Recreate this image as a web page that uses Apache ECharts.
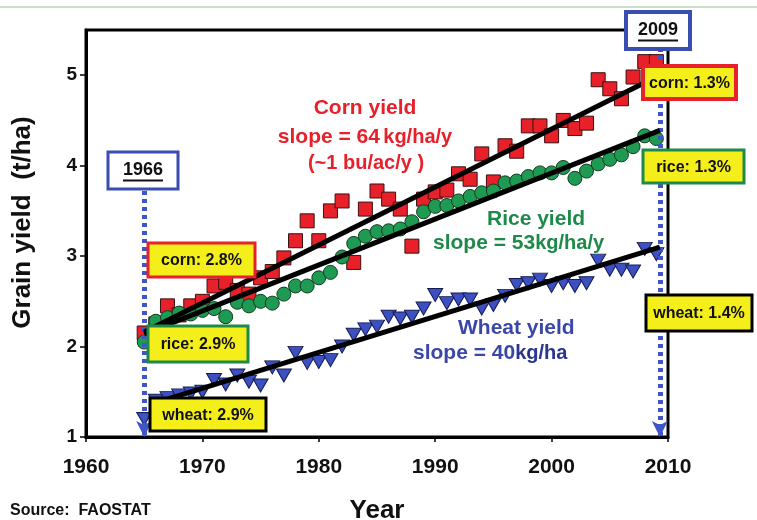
<!DOCTYPE html>
<html>
<head>
<meta charset="utf-8">
<script src="https://cdn.jsdelivr.net/npm/echarts@6/dist/echarts.min.js"></script>
<style>
  html, body { margin: 0; padding: 0; background: #fff; }
  #chart { width: 757px; height: 520px; }
</style>
</head>
<body>
<div id="chart"></div>
<script>
// years of the FAOSTAT series, as placed on the picture
const years = [1965, 1966, 1967, 1968, 1969, 1970, 1971, 1972, 1973, 1974,
  1975, 1976, 1977, 1978, 1979, 1980, 1981, 1982, 1983, 1984,
  1985, 1986, 1987, 1988, 1989, 1990, 1991, 1992, 1993, 1994,
  1995, 1996, 1997, 1998, 1999, 2000, 2001, 2002, 2003, 2004,
  2005, 2006, 2007, 2008, 2009];

// grain yield, t/ha
const corn = [2.15, 2.25, 2.45, 2.35, 2.45, 2.5, 2.67, 2.71, 2.62, 2.58,
  2.76, 2.83, 2.98, 3.17, 3.39, 3.17, 3.5, 3.61, 2.93, 3.52,
  3.72, 3.63, 3.52, 3.11, 3.63, 3.71, 3.73, 3.91, 3.85, 4.13,
  3.82, 4.22, 4.16, 4.44, 4.44, 4.33, 4.5, 4.41, 4.47, 4.95,
  4.85, 4.74, 4.98, 5.15, 5.15];
const rice = [2.05, 2.28, 2.32, 2.37, 2.36, 2.4, 2.42, 2.33, 2.49, 2.45,
  2.5, 2.48, 2.58, 2.67, 2.67, 2.76, 2.82, 2.99, 3.14, 3.22,
  3.27, 3.28, 3.3, 3.38, 3.49, 3.55, 3.56, 3.61, 3.66, 3.7,
  3.72, 3.81, 3.83, 3.88, 3.92, 3.92, 3.98, 3.86, 3.94, 4.02,
  4.07, 4.12, 4.21, 4.33, 4.3];
const wheat = [1.2, 1.4, 1.43, 1.46, 1.48, 1.5, 1.63, 1.58, 1.68, 1.61,
  1.57, 1.77, 1.68, 1.93, 1.82, 1.83, 1.85, 2.0, 2.13, 2.19,
  2.22, 2.33, 2.31, 2.33, 2.42, 2.57, 2.48, 2.52, 2.52, 2.42,
  2.46, 2.56, 2.68, 2.7, 2.74, 2.67, 2.7, 2.67, 2.7, 2.95,
  2.85, 2.85, 2.83, 3.08, 3.02];

// trend line ends (year, t/ha)
const cornTrendYears = [1965, 2008.2];
const cornTrend = [2.16, 4.93];
const riceTrendYears = [1965, 2009.3];
const riceTrend = [2.14, 4.39];
const wheatTrendYears = [1966.5, 2009.3];
const wheatTrend = [1.4, 3.1];

// dotted marker lines: year position and top value
const markYears = [1965, 2009.3];
const markTops = [3.72, 5.3];

const xTicks = { min: 1960, max: 2010, step: 10 };
const yTicks = { min: 1, max: 5.5, step: 1 };

const RED = '#e8202a';
const GREEN = '#1e8a4a';
const BLUE = '#3b47a8';
const DOT_BLUE = '#3f55c8';
const YELLOW = '#f4ee1a';
const FONT = '"Liberation Sans", Arial, sans-serif';
const NARROW = '"Liberation Sans Narrow", "Liberation Sans", Arial, sans-serif';

const pairs = (xs, ys) => xs.map((x, i) => [x, ys[i]]);

function labelBox(x, y, w, h, color, text, bw) {
  return {
    type: 'group', x: x, y: y, z: 100,
    children: [
      { type: 'rect', z: 100, shape: { x: 0, y: 0, width: w, height: h },
        style: { fill: YELLOW, stroke: color, lineWidth: bw } },
      { type: 'text', z: 101, x: w / 2, y: h / 2 + 1,
        style: { text: text, fill: '#111', font: 'bold 16px ' + FONT,
                 align: 'center', verticalAlign: 'middle' } }
    ]
  };
}

function yearBox(x, y, w, h, text, bw) {
  return {
    type: 'group', x: x, y: y, z: 100,
    children: [
      { type: 'rect', z: 100, shape: { x: 0, y: 0, width: w, height: h },
        style: { fill: '#fff', stroke: '#3a4db0', lineWidth: bw } },
      { type: 'text', z: 101, x: w / 2, y: h / 2,
        style: { text: text, fill: '#111', font: 'bold 18px ' + FONT,
                 align: 'center', verticalAlign: 'middle' } },
      { type: 'line', z: 101, shape: { x1: w / 2 - 20, y1: h / 2 + 10, x2: w / 2 + 20, y2: h / 2 + 10 },
        style: { stroke: '#111', lineWidth: 2 } }
    ]
  };
}

function note(x, y, rich, text, align) {
  return {
    type: 'text', x: x, y: y, z: 90,
    style: { text: text, rich: rich, align: align, verticalAlign: 'middle' }
  };
}

const chart = echarts.init(document.getElementById('chart'));

const option = {
  backgroundColor: '#fff',
  animation: false,
  grid: {
    left: 86, right: 89, top: 30, bottom: 83,
    containLabel: false, outerBoundsMode: 'none',
    show: true, borderColor: '#000', borderWidth: 3
  },
  xAxis: {
    type: 'value',
    min: xTicks.min, max: xTicks.max, interval: xTicks.step,
    name: 'Year', nameLocation: 'middle', nameGap: 61,
    nameTextStyle: { color: '#111', fontSize: 26, fontWeight: 'bold', fontFamily: FONT },
    axisLine: { show: true, lineStyle: { color: '#000', width: 3 } },
    axisTick: { show: true, length: 5, lineStyle: { color: '#000', width: 1.5 } },
    axisLabel: { color: '#111', fontSize: 21, fontWeight: 'bold', fontFamily: NARROW, margin: 20,
                 formatter: v => String(v) },
    splitLine: { show: false }
  },
  yAxis: {
    type: 'value',
    min: yTicks.min, max: yTicks.max, interval: yTicks.step,
    name: 'Grain yield  (t/ha)', nameLocation: 'middle', nameGap: 50,
    nameTextStyle: { color: '#111', fontSize: 26, fontWeight: 'bold', fontFamily: FONT, padding: [0, 0, 0, 22] },
    axisLine: { show: true, lineStyle: { color: '#000', width: 3 } },
    axisTick: { show: true, length: 6, lineStyle: { color: '#000', width: 1.5 } },
    axisLabel: { color: '#111', fontSize: 19, fontWeight: 'bold', fontFamily: FONT, margin: 9, showMaxLabel: false },
    splitLine: { show: false }
  },
  series: [
    {
      name: 'corn', type: 'scatter', symbol: 'rect', symbolSize: 14,
      itemStyle: { color: RED, borderColor: '#3a1010', borderWidth: 1, opacity: 1 },
      data: pairs(years, corn), z: 3
    },
    {
      name: 'rice', type: 'scatter', symbol: 'circle', symbolSize: 14,
      itemStyle: { color: '#1f9a52', borderColor: '#123a20', borderWidth: 1, opacity: 1 },
      data: pairs(years, rice), z: 4
    },
    {
      name: 'wheat', type: 'scatter', symbol: 'triangle', symbolRotate: 180, symbolSize: [15, 13],
      itemStyle: { color: '#3d50c2', borderColor: '#141c50', borderWidth: 1, opacity: 1 },
      data: pairs(years, wheat), z: 4,
      markLine: {
        silent: true, symbol: ['none', 'arrow'], symbolSize: [12, 16],
        label: { show: false },
        lineStyle: { color: DOT_BLUE, width: 5, type: [4, 4], cap: 'butt', opacity: 1 },
        data: markYears.map((yr, i) => [{ coord: [yr, markTops[i]] }, { coord: [yr, yTicks.min] }])
      }
    },
    {
      type: 'line', data: pairs(cornTrendYears, cornTrend), showSymbol: false, z: 6,
      lineStyle: { color: '#000', width: 5 }
    },
    {
      type: 'line', data: pairs(riceTrendYears, riceTrend), showSymbol: false, z: 6,
      lineStyle: { color: '#000', width: 5 }
    },
    {
      type: 'line', data: pairs(wheatTrendYears, wheatTrend), showSymbol: false, z: 6,
      lineStyle: { color: '#000', width: 5 }
    }
  ],
  graphic: [
    { type: 'line', shape: { x1: 0, y1: 7, x2: 757, y2: 7 }, style: { stroke: '#94bf94', lineWidth: 1 } },
    { type: 'text', x: 10, y: 511,
      style: { text: 'Source:  FAOSTAT', fill: '#111', font: 'bold 16px ' + NARROW, verticalAlign: 'middle' } },

    yearBox(108, 152, 70, 37, '1966', 3),
    yearBox(626, 12, 64, 37, '2009', 4),

    labelBox(148, 243, 107, 34, RED, 'corn: 2.8%', 3),
    labelBox(148, 326, 100, 36, GREEN, 'rice: 2.9%', 3),
    labelBox(150, 398, 116, 33, '#000', 'wheat: 2.9%', 3),
    labelBox(643, 66, 93, 33, RED, 'corn: 1.3%', 4),
    labelBox(643, 150, 101, 33, GREEN, 'rice: 1.3%', 3),
    labelBox(646, 295, 106, 36, '#000', 'wheat: 1.4%', 3),

    note(365, 108, { a: { fill: RED, font: 'bold 21px ' + FONT } }, '{a|Corn yield}', 'center'),
    note(365, 137, { a: { fill: RED, font: 'bold 21px ' + FONT }, b: { fill: RED, font: 'bold 20px ' + FONT } },
      '{a|slope = 64} {b|kg/ha/y}', 'center'),
    note(366, 163, { a: { fill: RED, font: 'bold 20px ' + FONT } }, '{a|(~1 bu/ac/y )}', 'center'),

    note(487, 219, { a: { fill: GREEN, font: 'bold 21px ' + FONT } }, '{a|Rice yield}', 'left'),
    note(433, 243, { a: { fill: GREEN, font: 'bold 21px ' + FONT }, b: { fill: GREEN, font: 'bold 20px ' + FONT } },
      '{a|slope = 53}{b|kg/ha/y}', 'left'),

    note(458, 328, { a: { fill: BLUE, font: 'bold 21px ' + FONT } }, '{a|Wheat yield}', 'left'),
    note(413, 353, { a: { fill: BLUE, font: 'bold 21px ' + FONT }, b: { fill: '#2a3590', font: 'bold 20px ' + FONT } },
      '{a|slope = 40}{b|kg/ha}', 'left')
  ]
};

chart.setOption(option);
window.addEventListener('resize', () => chart.resize());
</script>
</body>
</html>
